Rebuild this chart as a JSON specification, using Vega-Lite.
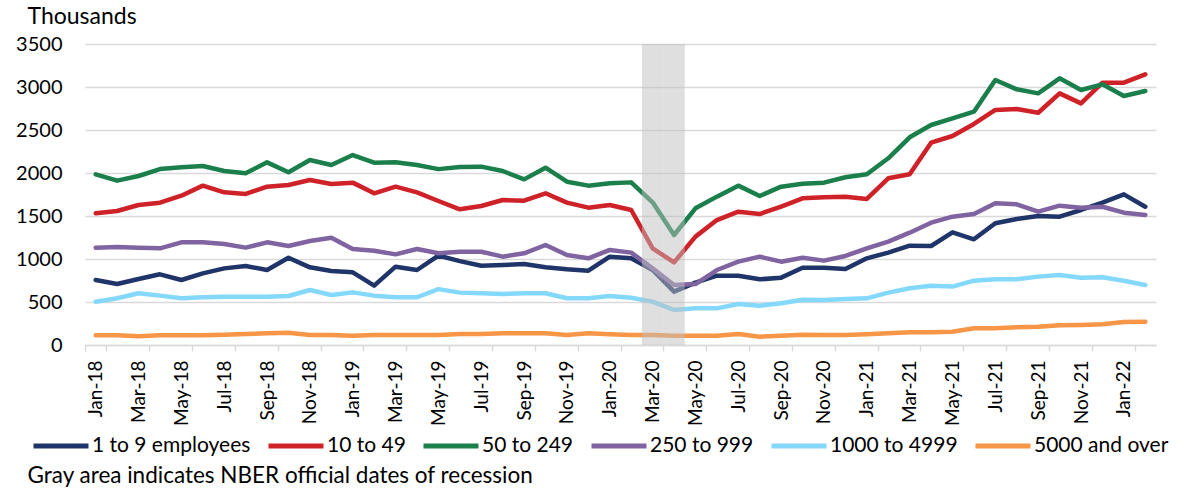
{
  "$schema": "https://vega.github.io/schema/vega-lite/v6.json",
  "width": 1071,
  "height": 301,
  "autosize": {"type": "none"},
  "padding": {"left": 85, "top": 44, "right": 34, "bottom": 144},
  "config": {
    "font": "Lato",
    "view": {"stroke": null},
    "legend": {
      "orient": "none",
      "legendX": -54,
      "legendY": 372,
      "direction": "horizontal",
      "symbolType": "stroke",
      "symbolSize": 3025,
      "symbolStrokeWidth": 5,
      "labelFontSize": 21,
      "labelColor": "#000000",
      "labelOffset": 1,
      "columnPadding": 7,
      "labelLimit": 400
    }
  },
  "data": {
    "values": [
      {"month": "Jan-18", "1 to 9 employees": 756, "10 to 49": 1531, "50 to 249": 1985, "250 to 999": 1132, "1000 to 4999": 504, "5000 and over": 112},
      {"month": "Feb-18", "1 to 9 employees": 709, "10 to 49": 1558, "50 to 249": 1911, "250 to 999": 1140, "1000 to 4999": 543, "5000 and over": 112},
      {"month": "Mar-18", "1 to 9 employees": 767, "10 to 49": 1628, "50 to 249": 1965, "250 to 999": 1132, "1000 to 4999": 601, "5000 and over": 101},
      {"month": "Apr-18", "1 to 9 employees": 822, "10 to 49": 1655, "50 to 249": 2046, "250 to 999": 1124, "1000 to 4999": 574, "5000 and over": 112},
      {"month": "May-18", "1 to 9 employees": 756, "10 to 49": 1736, "50 to 249": 2066, "250 to 999": 1194, "1000 to 4999": 543, "5000 and over": 112},
      {"month": "Jun-18", "1 to 9 employees": 833, "10 to 49": 1853, "50 to 249": 2081, "250 to 999": 1194, "1000 to 4999": 555, "5000 and over": 112},
      {"month": "Jul-18", "1 to 9 employees": 891, "10 to 49": 1775, "50 to 249": 2023, "250 to 999": 1174, "1000 to 4999": 562, "5000 and over": 120},
      {"month": "Aug-18", "1 to 9 employees": 919, "10 to 49": 1756, "50 to 249": 1996, "250 to 999": 1132, "1000 to 4999": 562, "5000 and over": 128},
      {"month": "Sep-18", "1 to 9 employees": 872, "10 to 49": 1841, "50 to 249": 2124, "250 to 999": 1194, "1000 to 4999": 562, "5000 and over": 136},
      {"month": "Oct-18", "1 to 9 employees": 1015, "10 to 49": 1860, "50 to 249": 2008, "250 to 999": 1151, "1000 to 4999": 570, "5000 and over": 143},
      {"month": "Nov-18", "1 to 9 employees": 903, "10 to 49": 1919, "50 to 249": 2151, "250 to 999": 1209, "1000 to 4999": 640, "5000 and over": 116},
      {"month": "Dec-18", "1 to 9 employees": 860, "10 to 49": 1872, "50 to 249": 2093, "250 to 999": 1248, "1000 to 4999": 581, "5000 and over": 116},
      {"month": "Jan-19", "1 to 9 employees": 845, "10 to 49": 1888, "50 to 249": 2209, "250 to 999": 1116, "1000 to 4999": 612, "5000 and over": 108},
      {"month": "Feb-19", "1 to 9 employees": 690, "10 to 49": 1764, "50 to 249": 2120, "250 to 999": 1097, "1000 to 4999": 574, "5000 and over": 116},
      {"month": "Mar-19", "1 to 9 employees": 911, "10 to 49": 1841, "50 to 249": 2124, "250 to 999": 1054, "1000 to 4999": 555, "5000 and over": 116},
      {"month": "Apr-19", "1 to 9 employees": 872, "10 to 49": 1775, "50 to 249": 2093, "250 to 999": 1116, "1000 to 4999": 555, "5000 and over": 116},
      {"month": "May-19", "1 to 9 employees": 1040, "10 to 49": 1674, "50 to 249": 2045, "250 to 999": 1066, "1000 to 4999": 650, "5000 and over": 116},
      {"month": "Jun-19", "1 to 9 employees": 975, "10 to 49": 1578, "50 to 249": 2070, "250 to 999": 1085, "1000 to 4999": 609, "5000 and over": 128},
      {"month": "Jul-19", "1 to 9 employees": 922, "10 to 49": 1616, "50 to 249": 2074, "250 to 999": 1085, "1000 to 4999": 601, "5000 and over": 128},
      {"month": "Aug-19", "1 to 9 employees": 930, "10 to 49": 1686, "50 to 249": 2023, "250 to 999": 1027, "1000 to 4999": 593, "5000 and over": 136},
      {"month": "Sep-19", "1 to 9 employees": 942, "10 to 49": 1678, "50 to 249": 1926, "250 to 999": 1066, "1000 to 4999": 601, "5000 and over": 136},
      {"month": "Oct-19", "1 to 9 employees": 903, "10 to 49": 1764, "50 to 249": 2062, "250 to 999": 1163, "1000 to 4999": 601, "5000 and over": 136},
      {"month": "Nov-19", "1 to 9 employees": 880, "10 to 49": 1655, "50 to 249": 1899, "250 to 999": 1047, "1000 to 4999": 543, "5000 and over": 116},
      {"month": "Dec-19", "1 to 9 employees": 864, "10 to 49": 1597, "50 to 249": 1853, "250 to 999": 1008, "1000 to 4999": 543, "5000 and over": 136},
      {"month": "Jan-20", "1 to 9 employees": 1027, "10 to 49": 1628, "50 to 249": 1880, "250 to 999": 1105, "1000 to 4999": 570, "5000 and over": 124},
      {"month": "Feb-20", "1 to 9 employees": 1008, "10 to 49": 1570, "50 to 249": 1891, "250 to 999": 1074, "1000 to 4999": 550, "5000 and over": 116},
      {"month": "Mar-20", "1 to 9 employees": 872, "10 to 49": 1124, "50 to 249": 1659, "250 to 999": 891, "1000 to 4999": 504, "5000 and over": 116},
      {"month": "Apr-20", "1 to 9 employees": 620, "10 to 49": 961, "50 to 249": 1279, "250 to 999": 698, "1000 to 4999": 407, "5000 and over": 108},
      {"month": "May-20", "1 to 9 employees": 725, "10 to 49": 1260, "50 to 249": 1589, "250 to 999": 709, "1000 to 4999": 426, "5000 and over": 108},
      {"month": "Jun-20", "1 to 9 employees": 806, "10 to 49": 1453, "50 to 249": 1725, "250 to 999": 872, "1000 to 4999": 426, "5000 and over": 108},
      {"month": "Jul-20", "1 to 9 employees": 806, "10 to 49": 1550, "50 to 249": 1853, "250 to 999": 969, "1000 to 4999": 477, "5000 and over": 128},
      {"month": "Aug-20", "1 to 9 employees": 764, "10 to 49": 1523, "50 to 249": 1733, "250 to 999": 1027, "1000 to 4999": 457, "5000 and over": 97},
      {"month": "Sep-20", "1 to 9 employees": 783, "10 to 49": 1608, "50 to 249": 1841, "250 to 999": 969, "1000 to 4999": 485, "5000 and over": 108},
      {"month": "Oct-20", "1 to 9 employees": 899, "10 to 49": 1705, "50 to 249": 1875, "250 to 999": 1014, "1000 to 4999": 527, "5000 and over": 120},
      {"month": "Nov-20", "1 to 9 employees": 899, "10 to 49": 1717, "50 to 249": 1888, "250 to 999": 981, "1000 to 4999": 523, "5000 and over": 116},
      {"month": "Dec-20", "1 to 9 employees": 884, "10 to 49": 1725, "50 to 249": 1950, "250 to 999": 1035, "1000 to 4999": 535, "5000 and over": 116},
      {"month": "Jan-21", "1 to 9 employees": 1008, "10 to 49": 1698, "50 to 249": 1985, "250 to 999": 1124, "1000 to 4999": 543, "5000 and over": 124},
      {"month": "Feb-21", "1 to 9 employees": 1074, "10 to 49": 1938, "50 to 249": 2171, "250 to 999": 1202, "1000 to 4999": 609, "5000 and over": 136},
      {"month": "Mar-21", "1 to 9 employees": 1155, "10 to 49": 1985, "50 to 249": 2415, "250 to 999": 1306, "1000 to 4999": 659, "5000 and over": 147},
      {"month": "Apr-21", "1 to 9 employees": 1151, "10 to 49": 2353, "50 to 249": 2558, "250 to 999": 1422, "1000 to 4999": 690, "5000 and over": 147},
      {"month": "May-21", "1 to 9 employees": 1310, "10 to 49": 2430, "50 to 249": 2636, "250 to 999": 1492, "1000 to 4999": 679, "5000 and over": 155},
      {"month": "Jun-21", "1 to 9 employees": 1229, "10 to 49": 2570, "50 to 249": 2713, "250 to 999": 1523, "1000 to 4999": 748, "5000 and over": 194},
      {"month": "Jul-21", "1 to 9 employees": 1415, "10 to 49": 2733, "50 to 249": 3081, "250 to 999": 1648, "1000 to 4999": 764, "5000 and over": 194},
      {"month": "Aug-21", "1 to 9 employees": 1465, "10 to 49": 2744, "50 to 249": 2973, "250 to 999": 1636, "1000 to 4999": 764, "5000 and over": 205},
      {"month": "Sep-21", "1 to 9 employees": 1500, "10 to 49": 2701, "50 to 249": 2926, "250 to 999": 1550, "1000 to 4999": 795, "5000 and over": 213},
      {"month": "Oct-21", "1 to 9 employees": 1492, "10 to 49": 2926, "50 to 249": 3101, "250 to 999": 1620, "1000 to 4999": 814, "5000 and over": 229},
      {"month": "Nov-21", "1 to 9 employees": 1570, "10 to 49": 2810, "50 to 249": 2965, "250 to 999": 1597, "1000 to 4999": 783, "5000 and over": 233},
      {"month": "Dec-21", "1 to 9 employees": 1655, "10 to 49": 3050, "50 to 249": 3031, "250 to 999": 1608, "1000 to 4999": 787, "5000 and over": 240},
      {"month": "Jan-22", "1 to 9 employees": 1752, "10 to 49": 3050, "50 to 249": 2895, "250 to 999": 1539, "1000 to 4999": 748, "5000 and over": 267},
      {"month": "Feb-22", "1 to 9 employees": 1608, "10 to 49": 3147, "50 to 249": 2953, "250 to 999": 1512, "1000 to 4999": 698, "5000 and over": 271}
    ]
  },
  "layer": [
    {
      "transform": [
        {"fold": ["1 to 9 employees", "10 to 49", "50 to 249", "250 to 999", "1000 to 4999", "5000 and over"], "as": ["series", "value"]}
      ],
      "mark": {"type": "line", "strokeWidth": 4.5, "strokeJoin": "round", "strokeCap": "round"},
      "encoding": {
        "x": {
          "field": "month",
          "type": "ordinal",
          "sort": null,
          "bandPosition": 0.5,
          "scale": {"type": "band", "paddingInner": 0, "paddingOuter": 0},
          "axis": {
            "title": "Gray area indicates NBER official dates of recession",
            "titleFont": "Lato",
            "titleFontSize": 22.5,
            "titleFontWeight": "normal",
            "titleColor": "#000000",
            "titleX": -58,
            "titleY": 137,
            "titleAlign": "left",
            "titleAnchor": null,
            "titleBaseline": "alphabetic",
            "values": ["Jan-18", "Mar-18", "May-18", "Jul-18", "Sep-18", "Nov-18", "Jan-19", "Mar-19", "May-19", "Jul-19", "Sep-19", "Nov-19", "Jan-20", "Mar-20", "May-20", "Jul-20", "Sep-20", "Nov-20", "Jan-21", "Mar-21", "May-21", "Jul-21", "Sep-21", "Nov-21", "Jan-22"],
            "tickBand": "extent",
            "labelAngle": -90,
            "labelAlign": "right",
            "labelBaseline": "middle",
            "labelFontSize": 19,
            "labelColor": "#000000",
            "labelPadding": 9,
            "labelOverlap": false,
            "domainColor": "#d9d9d9",
            "domainWidth": 1.5,
            "tickColor": "#d9d9d9",
            "tickWidth": 1.5,
            "tickSize": 6,
            "grid": false
          }
        },
        "y": {
          "field": "value",
          "type": "quantitative",
          "scale": {"domain": [0, 3500]},
          "axis": {
            "title": "Thousands",
            "titleAngle": 0,
            "titleFontSize": 23,
            "titleFontWeight": "normal",
            "titleColor": "#000000",
            "titleX": -58,
            "titleY": -21,
            "titleAlign": "left",
            "titleBaseline": "alphabetic",
            "values": [0, 500, 1000, 1500, 2000, 2500, 3000, 3500],
            "format": "d",
            "labelFontSize": 20,
            "labelColor": "#000000",
            "labelPadding": 23,
            "domain": false,
            "ticks": false,
            "grid": true,
            "gridColor": "#d9d9d9",
            "gridWidth": 1.5
          }
        },
        "color": {
          "field": "series",
          "type": "nominal",
          "sort": null,
          "scale": {
            "domain": ["1 to 9 employees", "10 to 49", "50 to 249", "250 to 999", "1000 to 4999", "5000 and over"],
            "range": ["#1f3469", "#cf2128", "#1b7f4c", "#8064a2", "#84d8fb", "#f79646"]
          },
          "legend": {"title": null}
        }
      }
    },
    {
      "transform": [{"filter": {"field": "month", "oneOf": ["Mar-20", "Apr-20"]}}],
      "mark": {"type": "rect", "color": "#bfbfbf", "opacity": 0.5},
      "encoding": {
        "x": {"field": "month", "type": "ordinal", "sort": null}
      }
    }
  ]
}
